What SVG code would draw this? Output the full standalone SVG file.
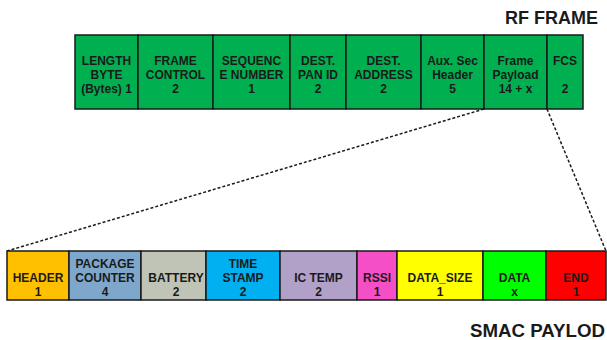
<svg xmlns="http://www.w3.org/2000/svg" width="607" height="340" viewBox="0 0 607 340">
<style>
.c{stroke:#1a1a1a;stroke-width:1.5}
.g{fill:#00B050}
text{font-family:"Liberation Sans",Arial,sans-serif;font-weight:bold;font-size:12px;fill:#1a1a1a;text-anchor:middle}
.t{font-size:18px;text-anchor:end}
.d{fill:none;stroke:#1a1a1a;stroke-width:1.5;stroke-dasharray:3,2}
</style>
<rect width="607" height="340" fill="#fff"/>
<text class="t" x="598" y="24">RF FRAME</text>
<text class="t" x="605" y="337" style="font-size:18.7px">SMAC PAYLOD</text>
<g id="connectors">
<line class="d" x1="484" y1="109" x2="7" y2="251"/>
<line class="d" x1="547" y1="109" x2="606" y2="251"/>
</g>
<g id="rf1"><rect class="c g" x="75" y="35" width="63" height="74"/><text x="106.5" y="64.5">LENGTH</text><text x="106.5" y="78.5">BYTE</text><text x="106.5" y="92.5">(Bytes)  1</text></g>
<g id="rf2"><rect class="c g" x="138" y="35" width="75" height="74"/><text x="175.5" y="64.5">FRAME</text><text x="175.5" y="78.5">CONTROL</text><text x="175.5" y="92.5">2</text></g>
<g id="rf3"><rect class="c g" x="213" y="35" width="77" height="74"/><text x="251.5" y="64.5">SEQUENC</text><text x="251.5" y="78.5">E NUMBER</text><text x="251.5" y="92.5">1</text></g>
<g id="rf4"><rect class="c g" x="290" y="35" width="56" height="74"/><text x="318" y="64.5">DEST.</text><text x="318" y="78.5">PAN ID</text><text x="318" y="92.5">2</text></g>
<g id="rf5"><rect class="c g" x="346" y="35" width="75" height="74"/><text x="383.5" y="64.5">DEST.</text><text x="383.5" y="78.5">ADDRESS</text><text x="383.5" y="92.5">2</text></g>
<g id="rf6"><rect class="c g" x="421" y="35" width="63" height="74"/><text x="452.5" y="64.5">Aux. Sec</text><text x="452.5" y="78.5">Header</text><text x="452.5" y="92.5">5</text></g>
<g id="rf7"><rect class="c g" x="484" y="35" width="63" height="74"/><text x="515.5" y="64.5">Frame</text><text x="515.5" y="78.5">Payload</text><text x="515.5" y="92.5">14 + x</text></g>
<g id="rf8"><rect class="c g" x="547" y="35" width="36" height="74"/><text x="565" y="64.5">FCS</text><text x="565" y="92.5">2</text></g>
<g id="s1"><rect class="c" fill="#FFC000" x="7" y="251" width="62" height="49"/><text x="38" y="281.5">HEADER</text><text x="38" y="295.5">1</text></g>
<g id="s2"><rect class="c" fill="#7FA7CB" x="69" y="251" width="72" height="49"/><text x="105" y="267.5">PACKAGE</text><text x="105" y="281.5">COUNTER</text><text x="105" y="295.5">4</text></g>
<g id="s3"><rect class="c" fill="#BFC4B6" x="141" y="251" width="65" height="49"/><text x="176" y="281.5">BATTERY</text><text x="176" y="295.5">2</text></g>
<g id="s4"><rect class="c" fill="#00B0F0" x="206" y="251" width="74" height="49"/><text x="243" y="267.5">TIME</text><text x="243" y="281.5">STAMP</text><text x="243" y="295.5">2</text></g>
<g id="s5"><rect class="c" fill="#B1A0C7" x="280" y="251" width="77" height="49"/><text x="318.5" y="281.5">IC TEMP</text><text x="318.5" y="295.5">2</text></g>
<g id="s6"><rect class="c" fill="#F54FC8" x="357" y="251" width="40" height="49"/><text x="377" y="281.5">RSSI</text><text x="377" y="295.5">1</text></g>
<g id="s7"><rect class="c" fill="#FFFF00" x="397" y="251" width="86" height="49"/><text x="440" y="281.5">DATA_SIZE</text><text x="440" y="295.5">1</text></g>
<g id="s8"><rect class="c" fill="#00FF00" x="483" y="251" width="63" height="49"/><text x="514.5" y="281.5">DATA</text><text x="514.5" y="295.5">x</text></g>
<g id="s9"><rect class="c" fill="#FF0000" x="546" y="251" width="60" height="49"/><text x="576" y="281.5">END</text><text x="576" y="295.5">1</text></g>
</svg>
